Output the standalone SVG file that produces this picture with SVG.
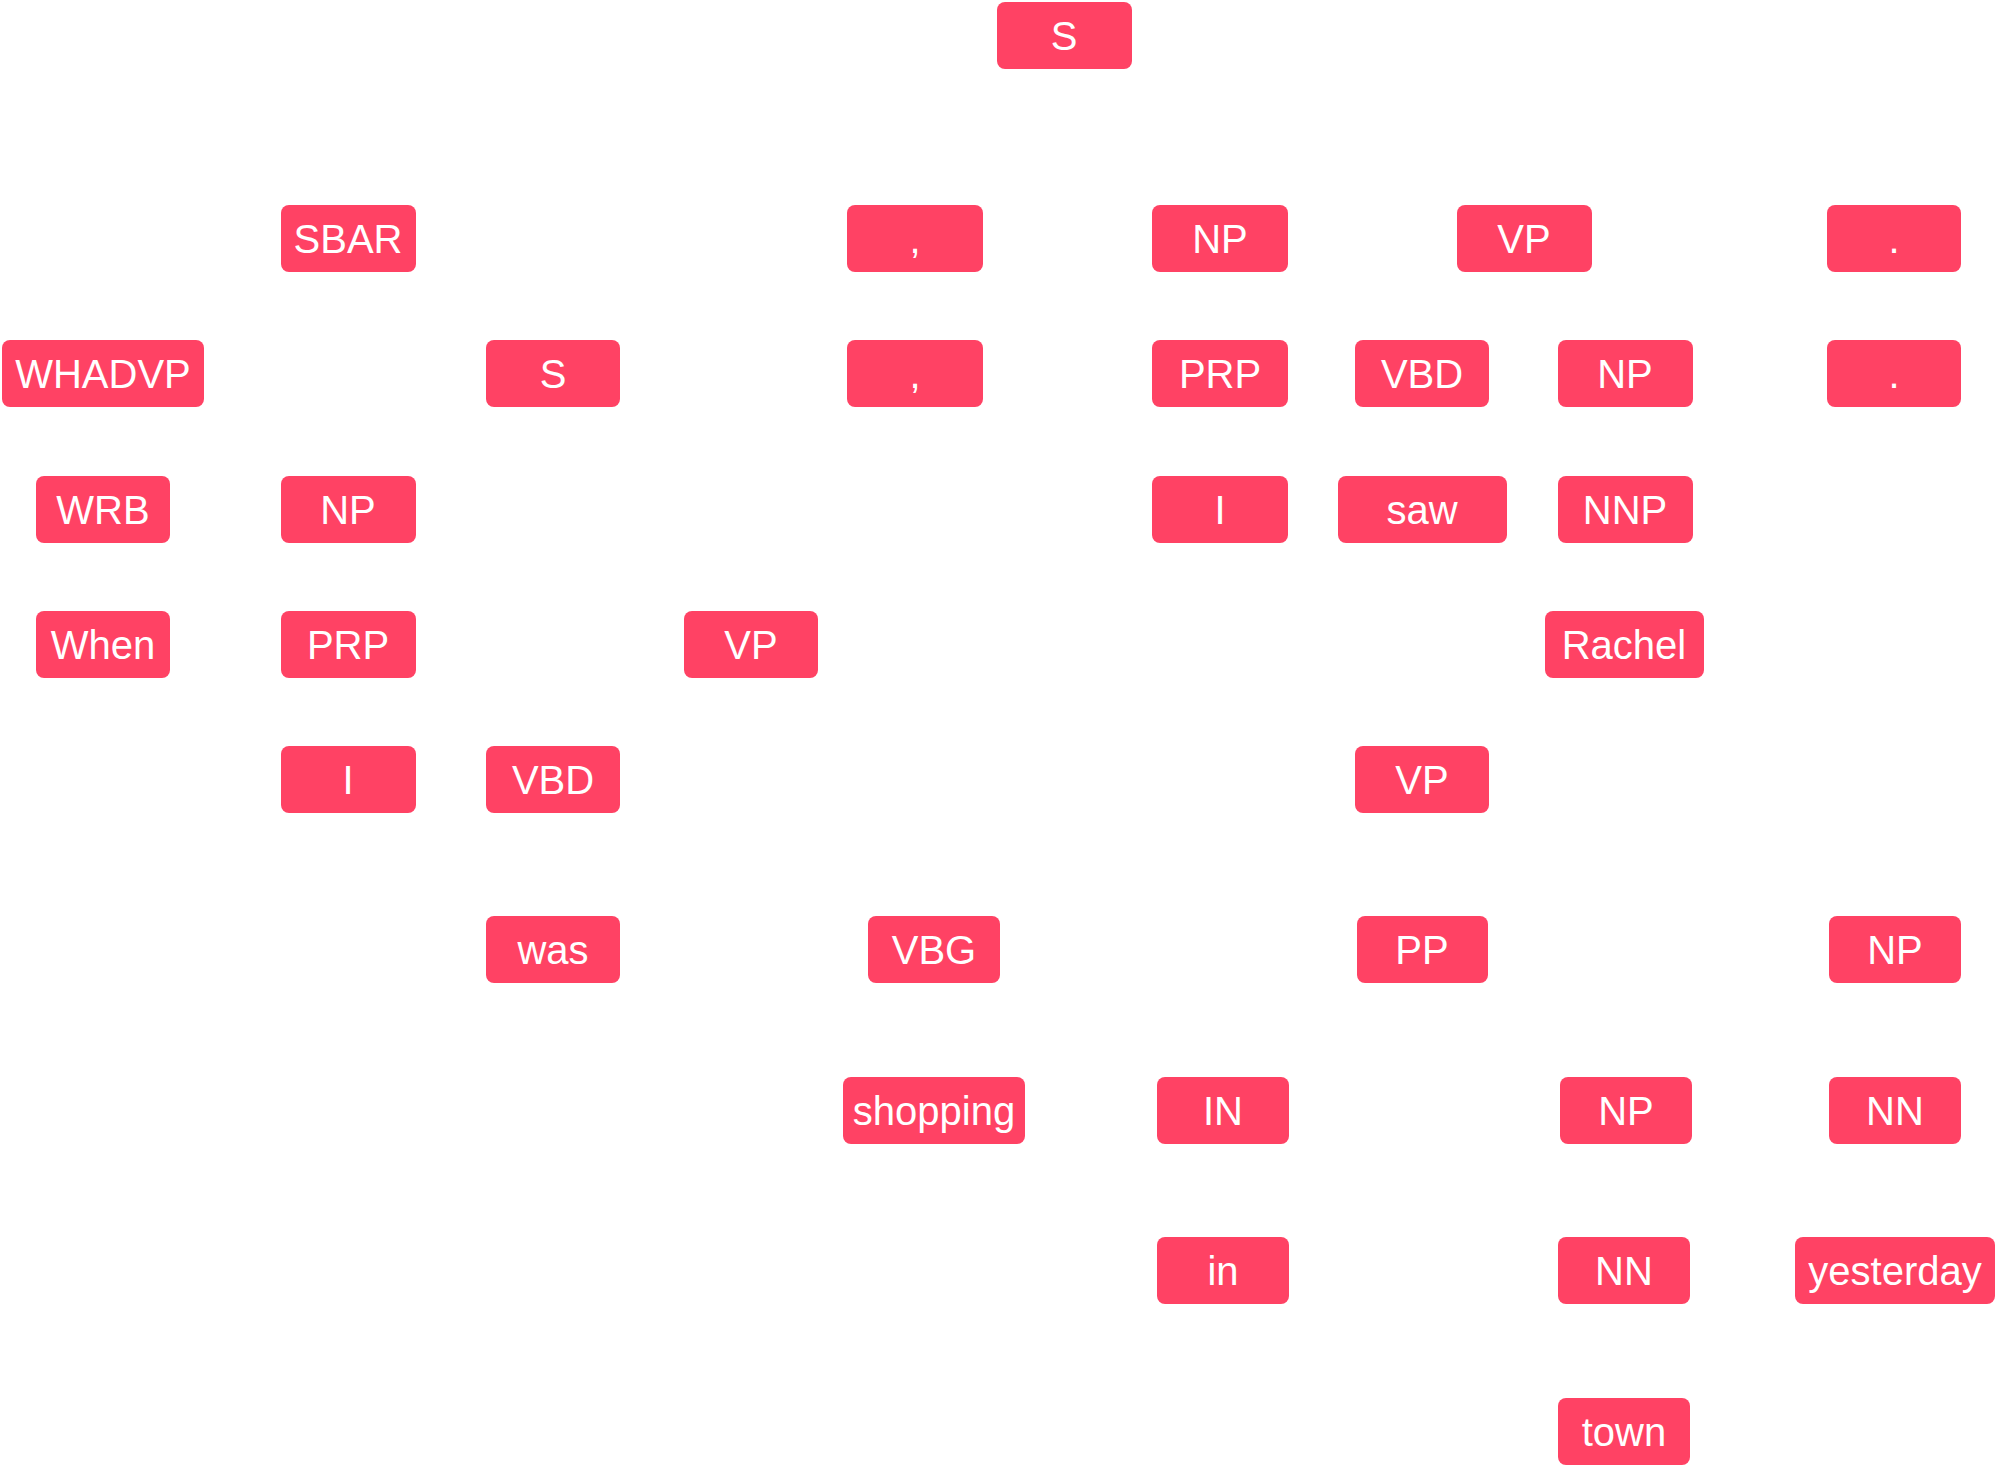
<svg xmlns="http://www.w3.org/2000/svg" width="2001" height="1469" viewBox="0 0 2001 1469">
<style>
.n rect{fill:#ff4264;}
.n text{fill:#ffffff;font-family:"Liberation Sans",Arial,sans-serif;font-size:40px;text-anchor:middle;}
.e line{stroke:#ffffff;stroke-width:2;}
</style>
<rect width="2001" height="1469" fill="#ffffff"/>
<g id="edges" class="e">
<line x1="1064" y1="35" x2="348" y2="238"/>
<line x1="1064" y1="35" x2="915" y2="238"/>
<line x1="1064" y1="35" x2="1220" y2="238"/>
<line x1="1064" y1="35" x2="1524" y2="238"/>
<line x1="1064" y1="35" x2="1894" y2="238"/>
<line x1="348" y1="238" x2="103" y2="373"/>
<line x1="348" y1="238" x2="553" y2="373"/>
<line x1="103" y1="373" x2="103" y2="509"/>
<line x1="103" y1="509" x2="103" y2="644"/>
<line x1="553" y1="373" x2="348" y2="509"/>
<line x1="553" y1="373" x2="751" y2="644"/>
<line x1="348" y1="509" x2="348" y2="644"/>
<line x1="348" y1="644" x2="348" y2="779"/>
<line x1="751" y1="644" x2="553" y2="779"/>
<line x1="751" y1="644" x2="1422" y2="779"/>
<line x1="553" y1="779" x2="553" y2="949"/>
<line x1="1422" y1="779" x2="934" y2="949"/>
<line x1="1422" y1="779" x2="1422" y2="949"/>
<line x1="1422" y1="779" x2="1894" y2="949"/>
<line x1="934" y1="949" x2="934" y2="1110"/>
<line x1="1422" y1="949" x2="1223" y2="1110"/>
<line x1="1422" y1="949" x2="1625" y2="1110"/>
<line x1="1223" y1="1110" x2="1223" y2="1270"/>
<line x1="1625" y1="1110" x2="1624" y2="1270"/>
<line x1="1624" y1="1270" x2="1624" y2="1431"/>
<line x1="1894" y1="949" x2="1895" y2="1110"/>
<line x1="1895" y1="1110" x2="1895" y2="1270"/>
<line x1="915" y1="238" x2="915" y2="373"/>
<line x1="1220" y1="238" x2="1220" y2="373"/>
<line x1="1220" y1="373" x2="1220" y2="509"/>
<line x1="1524" y1="238" x2="1422" y2="373"/>
<line x1="1524" y1="238" x2="1625" y2="373"/>
<line x1="1422" y1="373" x2="1422" y2="509"/>
<line x1="1625" y1="373" x2="1625" y2="509"/>
<line x1="1625" y1="509" x2="1624" y2="644"/>
<line x1="1894" y1="238" x2="1894" y2="373"/>
</g>
<g id="n_S" class="n"><rect x="997" y="2" width="135" height="67" rx="8"/><text x="1064" y="50">S</text></g>
<g id="n_SBAR" class="n"><rect x="281" y="205" width="135" height="67" rx="8"/><text x="348" y="253">SBAR</text></g>
<g id="n_comma1" class="n"><rect x="847" y="205" width="136" height="67" rx="8"/><text x="915" y="253">,</text></g>
<g id="n_NP1" class="n"><rect x="1152" y="205" width="136" height="67" rx="8"/><text x="1220" y="253">NP</text></g>
<g id="n_VP1" class="n"><rect x="1457" y="205" width="135" height="67" rx="8"/><text x="1524" y="253">VP</text></g>
<g id="n_dot1" class="n"><rect x="1827" y="205" width="134" height="67" rx="8"/><text x="1894" y="253">.</text></g>
<g id="n_WHADVP" class="n"><rect x="2" y="340" width="202" height="67" rx="8"/><text x="103" y="388">WHADVP</text></g>
<g id="n_S2" class="n"><rect x="486" y="340" width="134" height="67" rx="8"/><text x="553" y="388">S</text></g>
<g id="n_comma2" class="n"><rect x="847" y="340" width="136" height="67" rx="8"/><text x="915" y="388">,</text></g>
<g id="n_PRP1" class="n"><rect x="1152" y="340" width="136" height="67" rx="8"/><text x="1220" y="388">PRP</text></g>
<g id="n_VBD1" class="n"><rect x="1355" y="340" width="134" height="67" rx="8"/><text x="1422" y="388">VBD</text></g>
<g id="n_NP2" class="n"><rect x="1558" y="340" width="135" height="67" rx="8"/><text x="1625" y="388">NP</text></g>
<g id="n_dot2" class="n"><rect x="1827" y="340" width="134" height="67" rx="8"/><text x="1894" y="388">.</text></g>
<g id="n_WRB" class="n"><rect x="36" y="476" width="134" height="67" rx="8"/><text x="103" y="524">WRB</text></g>
<g id="n_NP3" class="n"><rect x="281" y="476" width="135" height="67" rx="8"/><text x="348" y="524">NP</text></g>
<g id="n_I1" class="n"><rect x="1152" y="476" width="136" height="67" rx="8"/><text x="1220" y="524">I</text></g>
<g id="n_saw" class="n"><rect x="1338" y="476" width="169" height="67" rx="8"/><text x="1422" y="524">saw</text></g>
<g id="n_NNP" class="n"><rect x="1558" y="476" width="135" height="67" rx="8"/><text x="1625" y="524">NNP</text></g>
<g id="n_When" class="n"><rect x="36" y="611" width="134" height="67" rx="8"/><text x="103" y="659">When</text></g>
<g id="n_PRP2" class="n"><rect x="281" y="611" width="135" height="67" rx="8"/><text x="348" y="659">PRP</text></g>
<g id="n_VP2" class="n"><rect x="684" y="611" width="134" height="67" rx="8"/><text x="751" y="659">VP</text></g>
<g id="n_Rachel" class="n"><rect x="1545" y="611" width="159" height="67" rx="8"/><text x="1624" y="659">Rachel</text></g>
<g id="n_I2" class="n"><rect x="281" y="746" width="135" height="67" rx="8"/><text x="348" y="794">I</text></g>
<g id="n_VBD2" class="n"><rect x="486" y="746" width="134" height="67" rx="8"/><text x="553" y="794">VBD</text></g>
<g id="n_VP3" class="n"><rect x="1355" y="746" width="134" height="67" rx="8"/><text x="1422" y="794">VP</text></g>
<g id="n_was" class="n"><rect x="486" y="916" width="134" height="67" rx="8"/><text x="553" y="964">was</text></g>
<g id="n_VBG" class="n"><rect x="868" y="916" width="132" height="67" rx="8"/><text x="934" y="964">VBG</text></g>
<g id="n_PP" class="n"><rect x="1357" y="916" width="131" height="67" rx="8"/><text x="1422" y="964">PP</text></g>
<g id="n_NP4" class="n"><rect x="1829" y="916" width="132" height="67" rx="8"/><text x="1895" y="964">NP</text></g>
<g id="n_shopping" class="n"><rect x="843" y="1077" width="182" height="67" rx="8"/><text x="934" y="1125">shopping</text></g>
<g id="n_IN" class="n"><rect x="1157" y="1077" width="132" height="67" rx="8"/><text x="1223" y="1125">IN</text></g>
<g id="n_NP5" class="n"><rect x="1560" y="1077" width="132" height="67" rx="8"/><text x="1626" y="1125">NP</text></g>
<g id="n_NN1" class="n"><rect x="1829" y="1077" width="132" height="67" rx="8"/><text x="1895" y="1125">NN</text></g>
<g id="n_in" class="n"><rect x="1157" y="1237" width="132" height="67" rx="8"/><text x="1223" y="1285">in</text></g>
<g id="n_NN2" class="n"><rect x="1558" y="1237" width="132" height="67" rx="8"/><text x="1624" y="1285">NN</text></g>
<g id="n_yesterday" class="n"><rect x="1795" y="1237" width="200" height="67" rx="8"/><text x="1895" y="1285">yesterday</text></g>
<g id="n_town" class="n"><rect x="1558" y="1398" width="132" height="67" rx="8"/><text x="1624" y="1446">town</text></g>
</svg>
